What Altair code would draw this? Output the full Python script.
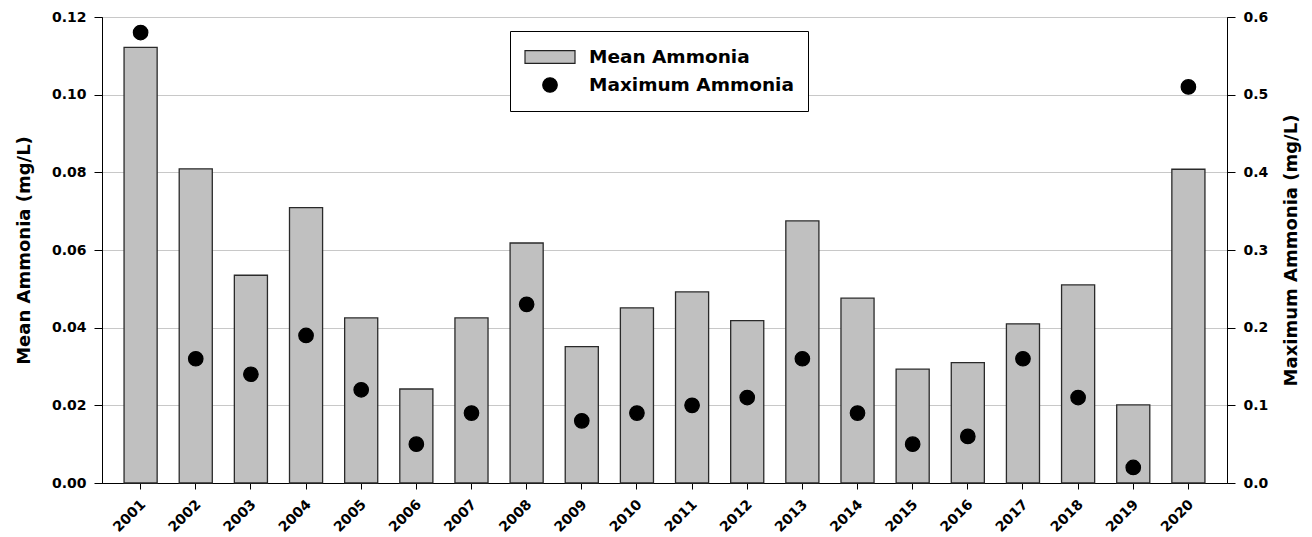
import altair as alt
import pandas as pd

years = ["2001", "2002", "2003", "2004", "2005", "2006", "2007", "2008", "2009", "2010",
         "2011", "2012", "2013", "2014", "2015", "2016", "2017", "2018", "2019", "2020"]
mean_ammonia = [0.1122, 0.0809, 0.0535, 0.0709, 0.0425, 0.0242, 0.0425, 0.0618, 0.0351, 0.0451,
                0.0492, 0.0418, 0.0675, 0.0476, 0.0293, 0.0310, 0.0410, 0.0510, 0.0201, 0.0808]
max_ammonia = [0.58, 0.16, 0.14, 0.19, 0.12, 0.05, 0.09, 0.23, 0.08, 0.09,
               0.10, 0.11, 0.16, 0.09, 0.05, 0.06, 0.16, 0.11, 0.02, 0.51]
series_names = ["Mean Ammonia", "Maximum Ammonia"]
left_ticks = [0.0, 0.02, 0.04, 0.06, 0.08, 0.10, 0.12]
right_ticks = [0.0, 0.1, 0.2, 0.3, 0.4, 0.5, 0.6]

df_mean = pd.DataFrame({"year": years, "value": mean_ammonia, "series": series_names[0]})
df_max = pd.DataFrame({"year": years, "value": max_ammonia, "series": series_names[1]})

FONT = "DejaVu Sans"
RECT_PATH = "M-1,-0.254L1,-0.254L1,0.254L-1,0.254Z"
CIRCLE_PATH = "M-0.29,0A0.29,0.29,0,1,0,0.29,0A0.29,0.29,0,1,0,-0.29,0Z"

fill_scale = alt.Scale(domain=series_names, range=["#c0c0c0", "#000000"])
stroke_scale = alt.Scale(domain=series_names, range=["#222222", "#000000"])
shape_scale = alt.Scale(domain=series_names, range=[RECT_PATH, CIRCLE_PATH])

legend = alt.Legend(
    title=None, orient="none", legendX=408, legendY=14,
    padding=14, clipHeight=24, rowPadding=4, symbolSize=2500, labelOffset=13,
    labelFont=FONT, labelFontSize=18.5, labelFontWeight="bold", labelColor="black",
    labelLimit=400, strokeColor="black", fillColor="white", cornerRadius=0,
    symbolStrokeWidth=1.2, symbolOpacity=1,
)

x_enc = alt.X(
    "year:N", sort=years, title=None,
    scale=alt.Scale(paddingInner=0.4, paddingOuter=0.4),
    axis=alt.Axis(labelAngle=315, labelAlign="right", labelBaseline="top",
                  tickSize=6, labelPadding=8, labelFontSize=14, labelOffset=-2),
)

bars = alt.Chart(df_mean).mark_bar(color="#c0c0c0", stroke="#2a2a2a", strokeWidth=1.3).encode(
    x=x_enc,
    y=alt.Y("value:Q", title="Mean Ammonia (mg/L)",
            scale=alt.Scale(domain=[0, 0.12], nice=False, zero=True),
            axis=alt.Axis(values=left_ticks, format=".2f", grid=True, tickSize=8,
                          labelPadding=8, titlePadding=18, orient="left")),
)

points = alt.Chart(df_max).mark_point(filled=True, opacity=1, size=2500, strokeWidth=1.2).encode(
    x=x_enc,
    y=alt.Y("value:Q", title="Maximum Ammonia (mg/L)",
            scale=alt.Scale(domain=[0, 0.6], nice=False, zero=True),
            axis=alt.Axis(values=right_ticks, format=".1f", grid=False, tickSize=8,
                          labelPadding=8, titlePadding=15, orient="right",
                          titleAngle=270, titleBaseline="top")),
    fill=alt.Fill("series:N", scale=fill_scale, legend=legend),
    stroke=alt.Stroke("series:N", scale=stroke_scale, legend=legend),
    shape=alt.Shape("series:N", scale=shape_scale, legend=legend),
)

chart = alt.layer(bars, points).resolve_scale(y="independent").properties(
    width=1125, height=466,
    autosize=alt.AutoSizeParams(type="none"),
    padding={"left": 94, "top": 9, "right": 77, "bottom": 52},
).configure_view(
    stroke="black", strokeWidth=1
).configure_axis(
    domainColor="black", domainWidth=1, tickColor="black", tickWidth=1,
    labelFont=FONT, labelFontSize=14, labelFontWeight="bold", labelColor="black",
    titleFont=FONT, titleFontSize=18, titleFontWeight="bold", titleColor="black",
    gridColor="#c8c8c8", gridWidth=1,
)

chart.save("out.html", embed_options={"renderer": "svg", "actions": False})
